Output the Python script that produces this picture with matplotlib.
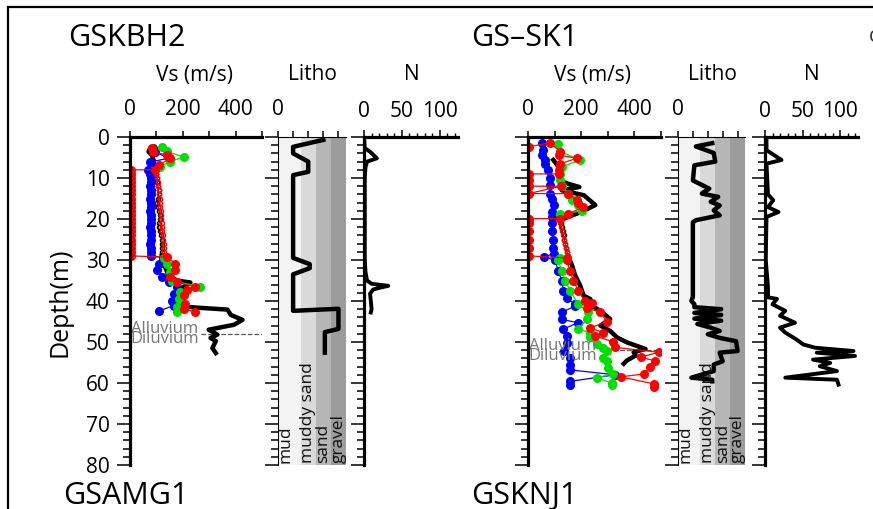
import numpy as np
import matplotlib
matplotlib.use("Agg")
import matplotlib.pyplot as plt
from matplotlib.patches import Rectangle
from matplotlib.ticker import MultipleLocator

plt.rcParams['font.family'] = ['Open Sans', 'DejaVu Sans']

W, H = 873, 509
nan = np.nan

# ---------------- GSKBH2 (left) ----------------
l_black_d = [2.8, 3.6, 4.4, 5.6, 8.1, nan, 28.9, 31.7, 33.8, 35.0, 35.5, 36.3, 37.5, 38.7, 40.0, 41.2,
             41.6, 42.1, 43.4, 44.6, 45.8, 47.0, 48.2, 49.0, 49.8, 51.5, 52.7]
l_black_v = [76, 70, 83, 89, 95, nan, 121, 133, 146, 178, 229, 210, 178, 165, 178, 178,
             250, 369, 382, 426, 394, 298, 331, 305, 325, 312, 325]
l_dot_d = [8, 9, 10, 11, 12, 13, 14, 15, 16, 17, 18, 19, 20, 21, 22, 23, 24, 25, 26, 27, 28, 29]
l_dot_red = [95, 100, 103, 105, 107, 108, 110, 112, 113, 115, 116, 118, 119, 120, 122, 123,
             124, 126, 127, 128, 130, 131]
l_dot_black = [96, 100, 102, 104, 106, 108, 108, 106, 104, 106, 110, 114, 114, 110, 108, 112,
               118, 121, 120, 121, 122, 121]
l_blue_d = [2.8, 3.6, 5.2, 6.1, 8.1, 9, 10, 11, 12, 13, 14, 15, 16, 17, 18, 19, 20, 21, 22, 23, 24,
            25, 26, 27, 28, 29.0, 29.4, 30.9, 32.5, 34.2, 35.4, 36.6, 38.2, 39.9, 41.1, 42.5]
l_blue_v = [89, 95, 146, 76, 70, 76, 78, 78, 76, 78, 78, 76, 78, 78, 76, 78, 78, 78, 76, 78, 78,
            78, 76, 78, 78, 78, 125, 108, 102, 121, 146, 178, 165, 159, 165, 108]
l_green_d = [2.5, 3.5, 4.9, 6.0, 7.3, nan, 29.5, 30.9, 33.0, 35.0, 36.6, 37.8, 39.5, 41.5, 42.7]
l_green_v = [121, 140, 203, 150, 114, nan, 130, 140, 153, 159, 267, 191, 185, 178, 178]
l_red_d = [2.8, 3.6, 4.4, 5.2, 6.9, 8.0, 8.0, 9, 10, 11, 12, 13, 14, 15, 16, 17, 18, 19, 20, 21, 22,
           23, 24, 25, 26, 27, 28, 29.0, 29.3, 30.9, 32.5, 34.2, 35.4, 36.6, 37.4, 38.6, 40.7, 41.9, 42.7]
l_red_v = [83, 89, 140, 153, 108, 95, 3, 3, 3, 3, 3, 3, 3, 3, 3, 3, 3, 3, 3, 3, 3,
           3, 3, 3, 3, 3, 3, 3, 140, 172, 172, 153, 178, 248, 216, 204, 210, 204, 248]
l_litho_d = [0.7, 2.4, 4.0, 6.0, 8.5, 9.3, 29.5, 31.0, 32.0, 33.5, 42.4, 41.9, 46.8, 47.6, 52.6]
l_litho_v = [3.0, 1.0, 1.0, 2.0, 2.0, 1.0, 1.0, 2.1, 2.1, 1.0, 1.0, 4.0, 4.0, 3.1, 3.1]
l_n_d = [0.2, 2.7, 3.6, 5.2, 6.0, 7.3, 10, 20, 30, 33, 35, 35.8, 36.3, 36.8, 37.2, 38.2, 40, 42, 42.8]
l_n_v = [0, 1, 8, 17, 4, 2, 1, 1, 1, 2, 4, 10, 32, 20, 12, 8, 9, 10, 9]
l_bound = 48.0

# ---------------- GS-SK1 (right) ----------------
r_black_d = [5.6, 7.3, 8.9, 10.5, 11.3, 12.2, 13.0, 14.2, 16.6, 18.2, 19.5, 20.3, nan,
             29.2, 31.2, 33.7, 36.2, 38.7, 39.5, 41.2, 42.4, 44.4, 46.0, 47.3, 48.9, 50.1,
             51.7, 52.5, 53.3, 54.5, 55.3]
r_black_v = [95, 115, 121, 115, 146, 193, 127, 210, 253, 203, 151, 121, nan,
             151, 165, 177, 196, 209, 234, 240, 272, 309, 272, 309, 335, 372,
             442, 397, 405, 372, 360]
r_dot_d = [20, 21, 22, 23, 24, 25, 26, 27, 28, 29]
r_dot_red = [115, 119, 123, 127, 131, 135, 139, 143, 147, 152]
r_dot_black = [121, 124, 127, 130, 134, 137, 140, 143, 146, 150]
r_blue_d = [1.5, 3.2, 4.5, 5.7, 6.5, 8.1, 10.0, 11.7, 13.8, 15.0, 16.7, 18.3, 19.5, 21, 23, 25, 27,
            28.5, 29.2, 30.1, 32.6, 35.0, 37.5, 39.2, 40.8, 41.2, 42.8, 44.5, 45.3, 46.9, 48.6, 50.2,
            52.3, 53.9, 55.5, 56.8, 58.0, 59.6, 60.4]
r_blue_v = [52, 57, 52, 64, 64, 75, 83, 83, 83, 89, 96, 89, 89, 92, 92, 94, 94,
            96, 60, 102, 113, 127, 133, 146, 177, 177, 127, 127, 189, 130, 146, 146,
            137, 158, 158, 158, 328, 158, 158]
r_green_d = [1.6, 3.6, 5.6, 7.3, 9.0, 10.5, 12.0, 13.8, 15.4, 16.7, 18.0, 18.9, nan,
             29.5, 30.1, 32.6, 35.0, 37.5, 40.8, 42.8, 44.5, 46.9, 47.7, 48.9, 50.5, 51.4,
             52.3, 53.9, 54.7, 56.4, 57.7, 58.8, 60.0, 60.5]
r_green_v = [113, 121, 196, 127, 121, 121, 127, 150, 165, 189, 203, 121, nan,
             120, 113, 127, 140, 158, 189, 227, 220, 189, 234, 234, 259, 283,
             297, 283, 297, 301, 321, 259, 316, 316]
r_red_d = [2.4, 1.4, 3.6, 4.4, 5.2, 6.5, 8.1, 9.0, 9.0, 10.5, 12.0, 12.0, 13.8, 13.8, 15.4, 16.2,
           17.1, 18.7, 19.9, 19.9, 21, 23, 25, 27, 29.0, 29.5, 30.1, 32.6, 35.0, 37.5, 39.9, 40.4,
           41.6, 42.8, 45.0, 46.6, 47.7, 48.5, 50.0, 51.3, 52.5, 53.7, 54.6, 56.2, 57.8, 58.5,
           60.2, 61.0]
r_red_v = [3, 83, 121, 115, 184, 121, 115, 115, 3, 3, 3, 123, 3, 152, 184, 188,
           208, 152, 121, 3, 3, 3, 3, 3, 3, 146, 146, 158, 171, 189, 213, 240,
           220, 272, 297, 234, 283, 252, 321, 327, 491, 423, 478, 459, 435, 348,
           472, 472]
r_litho_d = [1.5, 2.3, 3.9, 6.0, 6.9, 10.6, 12.6, 13.8, 14.6, 15.8, 16.7, 17.9, 19.1, 20.3, 20.8,
             39.0, 40.0, 40.8, 41.5, 42.0, 42.9, 43.4, 44.3, 44.8, 45.6, 46.5, 47.3,
             48.1, 49.0, 49.8, 52.2, 52.6, 54.7, 55.5, 57.1, 58.7, 59.2, 59.6]
r_litho_v = [2.3, 1.2, 2.4, 2.5, 1.1, 1.0, 2.1, 1.6, 2.7, 2.2, 2.8, 2.4, 2.8, 1.2, 1.0,
             1.0, 0.9, 1.1, 1.1, 2.9, 1.1, 2.9, 1.1, 2.9, 1.3, 2.2, 2.8,
             2.0, 2.8, 3.9, 4.0, 2.8, 3.0, 2.4, 2.4, 0.9, 2.3, 2.3]
r_n_d = [0.7, 3.2, 5.6, 6.5, 14.0, 15.4, 17.1, 18.3, 19.5, 30, 36.7, 39.1, 39.5, 40.8, 42.4,
         43.6, 45.3, 46.5, 47.7, 49.4, 50.6, 51.4, 52.2, 52.6, 53.4, 54.3, 55.1, 55.9, 57.1,
         58.7, 59.2, 60.4]
r_n_v = [2, 2, 22, 2, 4, 11, 4, 18, 2, 1, 4, 4, 16, 10, 27,
         20, 40, 20, 27, 42, 51, 67, 118, 69, 120, 64, 87, 73, 96,
         27, 96, 98]
r_bound = 52.0

litho_names = ['mud', 'muddy sand', 'sand', 'gravel']
litho_edges = [0, 1.5, 2.5, 3.5, 4.5]
litho_cols = ['#f3f3f3', '#dadada', '#b6b6b6', '#9c9c9c']


def px_axes(fig, x0, x1, y0=137, y1=465):
    return fig.add_axes([x0 / W, 1 - y1 / H, (x1 - x0) / W, (y1 - y0) / H])


def depth_axis(ax, thick=True, labels=False):
    ax.set_ylim(80, 0)
    ax.yaxis.set_major_locator(MultipleLocator(10))
    ax.yaxis.set_minor_locator(MultipleLocator(2))
    ax.tick_params(axis='y', which='major', length=9.5, width=1.1, direction='out',
                   labelleft=labels, labelsize=15, pad=5)
    ax.tick_params(axis='y', which='minor', length=5, width=1.1, direction='out')
    ax.xaxis.tick_top()
    for s in ['right', 'bottom']:
        ax.spines[s].set_visible(False)
    lw = 2.3 if thick else 0.8
    ax.spines['top'].set_linewidth(lw)
    ax.spines['left'].set_linewidth(lw)


def panel(fig, xs, black_d, black_v, dot_d, dot_red, dot_black, blue_d, blue_v,
          green_d, green_v, red_d, red_v, litho_d, litho_v, n_d, n_v, bound, alu_d):
    vx0, vx1, lx0, lx1, nx0, nx1 = xs
    # Vs
    ax = px_axes(fig, vx0, vx1)
    depth_axis(ax, labels=(vx0 < 300))
    ax.set_xlim(0, 500)
    ax.xaxis.set_major_locator(MultipleLocator(200))
    ax.xaxis.set_minor_locator(MultipleLocator(100))
    ax.tick_params(axis='x', which='both', length=4, width=1.1, labelsize=15, pad=8)
    mk = dict(marker='o', markersize=5.5, linewidth=0.9)
    ax.plot(blue_v, blue_d, color='#0000ff', **mk, zorder=3)
    ax.plot(green_v, green_d, color='#00e000', **mk, zorder=4)
    ax.plot(red_v, red_d, color='#ff0000', **mk, zorder=5)
    ax.plot(dot_black, dot_d, color='black', marker='o', markersize=3, linewidth=0.6,
            markerfacecolor='none', zorder=2)
    ax.plot(dot_red, dot_d, color='#ff0000', marker='o', markersize=3, linewidth=0.6,
            markerfacecolor='none', zorder=6)
    ax.plot(black_v, black_d, color='black', linewidth=3.2, zorder=2.5)
    ax.plot([270, 500], [bound, bound], color='#555555', linestyle='--', linewidth=0.9, zorder=1)
    ax.text(2, alu_d, 'Alluvium', color='#777777', fontsize=12, va='center', ha='left', zorder=7)
    ax.text(2, alu_d + 2.5, 'Diluvium', color='#777777', fontsize=12, va='center', ha='left', zorder=7)
    for s in ['top', 'left']:
        ax.spines[s].set_zorder(10)
    ax.patch.set_alpha(0)

    # Litho
    axl = px_axes(fig, lx0, lx1)
    depth_axis(axl, thick=False)
    axl.set_xlim(0, 4.5)
    axl.set_xticks([0, 1, 2, 3, 4])
    axl.set_xticklabels(['0', '', '', '', ''])
    axl.tick_params(axis='x', length=4, width=1.1, labelsize=15, pad=8)
    for i, name in enumerate(litho_names):
        axl.axvspan(litho_edges[i], litho_edges[i + 1], color=litho_cols[i], lw=0, zorder=0)
        axl.text(litho_edges[i] + 0.5, 79.6, name, rotation=90, ha='center', va='bottom',
                 fontsize=12.5, color='#111111', zorder=1)
    axl.plot(litho_v, litho_d, color='black', linewidth=3.2, zorder=3)

    # N
    axn = px_axes(fig, nx0, nx1)
    depth_axis(axn)
    axn.set_xlim(0, 124)
    axn.xaxis.set_major_locator(MultipleLocator(50))
    axn.xaxis.set_minor_locator(MultipleLocator(10))
    axn.tick_params(axis='x', which='major', length=5, width=1.1, labelsize=15, pad=6)
    axn.tick_params(axis='x', which='minor', length=3, width=1.0)
    axn.plot(n_v, n_d, color='black', linewidth=2.8)
    axn.patch.set_alpha(0)
    return ax


fig = plt.figure(figsize=(W / 100, H / 100), dpi=100)

panel(fig, (130, 262, 278, 346, 364, 458),
      l_black_d, l_black_v, l_dot_d, l_dot_red, l_dot_black, l_blue_d, l_blue_v,
      l_green_d, l_green_v, l_red_d, l_red_v, l_litho_d, l_litho_v, l_n_d, l_n_v, l_bound, 46.8)
panel(fig, (528, 661, 678, 745, 765, 858),
      r_black_d, r_black_v, r_dot_d, r_dot_red, r_dot_black, r_blue_d, r_blue_v,
      r_green_d, r_green_v, r_red_d, r_red_v, r_litho_d, r_litho_v, r_n_d, r_n_v, r_bound, 50.9)


def ftext(x, y, s, **kw):
    fig.text(x / W, 1 - y / H, s, **kw)


ftext(68, 38, 'GSKBH2', fontsize=22, va='center', ha='left')
ftext(471, 38, 'GS\u2013SK1', fontsize=22, va='center', ha='left')
ftext(63, 496, 'GSAMG1', fontsize=22, va='center', ha='left')
ftext(471, 496, 'GSKNJ1', fontsize=22, va='center', ha='left')
for cx, lab in [(195, 'Vs (m/s)'), (312, 'Litho'), (412, 'N'),
                (593, 'Vs (m/s)'), (712, 'Litho'), (812, 'N')]:
    ftext(cx, 75, lab, fontsize=15, va='center', ha='center')
ftext(60, 302, 'Depth(m)', fontsize=18, va='center', ha='center', rotation=90)
ftext(869, 36, 'c', fontsize=15, va='center', ha='left', color='#333333')

fig.patches.append(Rectangle((8 / W, -0.1), 2, 1 - 7 / H + 0.1, transform=fig.transFigure,
                             fill=False, edgecolor='black', linewidth=1.6))

fig.savefig('out.png', dpi=100)
